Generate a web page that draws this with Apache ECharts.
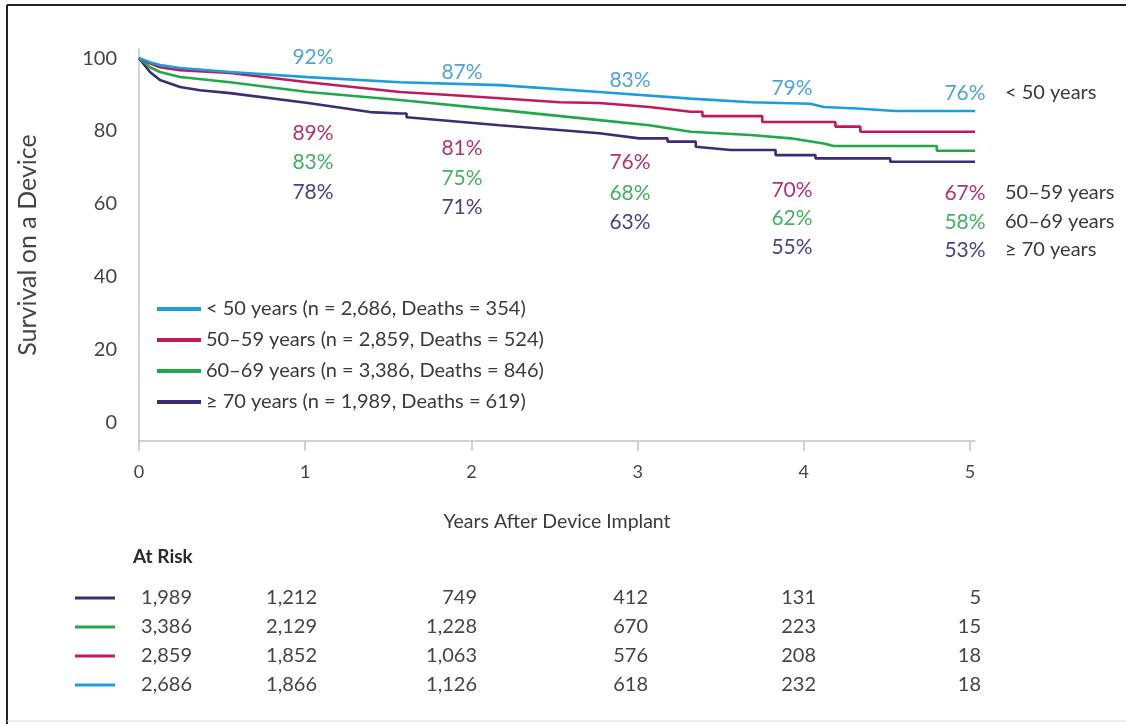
<!DOCTYPE html>
<html><head><meta charset="utf-8">
<script src="https://cdn.jsdelivr.net/npm/echarts@6/dist/echarts.min.js"></script>
<style>html,body{margin:0;padding:0;background:#fff}#c{width:1126px;height:724px}</style>
</head><body><div id="c"></div>
<script>
// ---------- DATA ----------
const groupNames = ['< 50 years', '50–59 years', '60–69 years', '≥ 70 years'];
const legendLabels = [
  '< 50 years (n = 2,686, Deaths = 354)',
  '50–59 years (n = 2,859, Deaths = 524)',
  '60–69 years (n = 3,386, Deaths = 846)',
  '≥ 70 years (n = 1,989, Deaths = 619)'
];
const yearTicks = [0, 1, 2, 3, 4, 5];
const survivalTicks = [0, 20, 40, 60, 80, 100];

// Kaplan–Meier curves: [years, survival %]
const curveLt50 = [[0,100],[0.066,98.9],[0.126,98.1],[0.247,97.3],[0.548,96.2],[1.017,94.8],[1.57,93.4],[2.17,92.6],[2.77,90.7],[3.32,88.9],[3.68,87.9],[4.04,87.5],[4.12,86.6],[4.32,86.2],[4.55,85.5],[5.03,85.5]];
const curve5059 = [[0,100],[0.066,98.6],[0.126,97.5],[0.247,96.7],[0.548,95.9],[1.017,93.4],[1.57,90.7],[1.87,89.9],[2.17,89.0],[2.53,87.9],[2.77,87.7],[3.07,86.6],[3.32,85.3],[3.39,85.3],[3.39,84.1],[3.75,84.1],[3.75,82.5],[4.19,82.5],[4.19,81.2],[4.34,81.2],[4.34,79.8],[5.03,79.8]];
const curve6069 = [[0,100],[0.066,97.5],[0.126,96.2],[0.247,94.8],[0.548,93.4],[1.017,90.7],[1.57,88.5],[2.17,85.8],[2.77,83.0],[3.07,81.6],[3.32,79.8],[3.68,78.9],[3.92,78.0],[4.12,76.6],[4.18,75.9],[4.80,75.9],[4.80,74.6],[5.03,74.6]];
const curve70 = [[0,100],[0.066,96.2],[0.126,94.0],[0.247,92.1],[0.367,91.2],[0.548,90.4],[1.017,87.7],[1.39,85.2],[1.57,84.8],[1.61,84.8],[1.61,83.8],[2.17,81.6],[2.77,79.4],[3.01,78.0],[3.18,78.0],[3.18,77.1],[3.35,77.1],[3.35,75.7],[3.56,74.8],[3.83,74.8],[3.83,73.4],[4.07,73.4],[4.07,72.5],[4.52,72.5],[4.52,71.6],[5.03,71.6]];

// Annotated survival at years 1..5
const pctLt50 = [92, 87, 83, 79, 76];
const pct5059 = [89, 81, 76, 70, 67];
const pct6069 = [83, 75, 68, 62, 58];
const pct70   = [78, 71, 63, 55, 53];

// At-risk counts at years 0..5
const atRisk70   = [1989, 1212, 749, 412, 131, 5];
const atRisk6069 = [3386, 2129, 1228, 670, 223, 15];
const atRisk5059 = [2859, 1852, 1063, 576, 208, 18];
const atRiskLt50 = [2686, 1866, 1126, 618, 232, 18];

// ---------- STYLE / LAYOUT ----------
const FONT = 'Lato, "Open Sans", sans-serif';
const lineColors = ['#1a9fdb', '#be1a5c', '#20a84a', '#3b2c74'];
const pctColors  = ['#4fa3d6', '#b2346f', '#45b061', '#4c3f8a'];
const textDark = '#3a3a3a';
const pctX = [313, 462, 630, 792, 965];
const pctTopY = [57, 72, 80, 88, 93];
const pctLowY = [[133,162,192],[148,178,207],[162,193,222],[190,218,247],[193,222,250]];
const rightLabelX = 1005;
const rightLabelY = [93, 193, 222, 250];
const riskColRight = [192, 317, 477, 648, 816, 981];
const riskRowY = [598, 627, 656, 685];

const chart = echarts.init(document.getElementById('c'), null, {renderer: 'canvas'});

const curves = [curveLt50, curve5059, curve6069, curve70];
const series = curves.map((d, i) => ({
  name: legendLabels[i], type: 'line', data: d, showSymbol: false, symbol: 'none',
  lineStyle: {width: 2.6, color: lineColors[i]}, itemStyle: {color: lineColors[i]},
  z: 10 - i, silent: true
}));

const graphics = [];
// frame
graphics.push({type:'line', shape:{x1:7,y1:5,x2:7,y2:724}, style:{stroke:'#222', lineWidth:2}});
graphics.push({type:'line', shape:{x1:7,y1:5,x2:1126,y2:5}, style:{stroke:'#222', lineWidth:2}});
graphics.push({type:'line', shape:{x1:7,y1:721,x2:1126,y2:721}, style:{stroke:'#d8d8d8', lineWidth:1}});

const txt = (text, x, y, fill, size, align, weight) => ({
  type: 'text', x: x, y: y, silent: true,
  style: {text: text, fill: fill, font: (weight||'normal') + ' ' + size + 'px ' + FONT,
          textAlign: align || 'center', textVerticalAlign: 'middle'}
});

// percentage annotations
const pctGroups = [pctLt50, pct5059, pct6069, pct70];
for (let k = 0; k < 5; k++) {
  graphics.push(txt(pctLt50[k] + '%', pctX[k], pctTopY[k], pctColors[0], 21));
  for (let g = 1; g < 4; g++) {
    graphics.push(txt(pctGroups[g][k] + '%', pctX[k], pctLowY[k][g-1], pctColors[g], 21));
  }
}
// right-side group labels
groupNames.forEach((n, i) => graphics.push(txt(n, rightLabelX, rightLabelY[i], textDark, 20, 'left')));

// at-risk table
graphics.push(txt('At Risk', 133, 557, '#2a2a2a', 19, 'left', 'bold'));
const riskRows = [atRisk70, atRisk6069, atRisk5059, atRiskLt50];
const riskColors = [lineColors[3], lineColors[2], lineColors[1], lineColors[0]];
riskRows.forEach((row, r) => {
  graphics.push({type:'line', silent:true, shape:{x1:75, y1:riskRowY[r], x2:115, y2:riskRowY[r]},
                 style:{stroke:riskColors[r], lineWidth:3}});
  row.forEach((v, c) => graphics.push(txt(v.toLocaleString('en-US'), riskColRight[c], riskRowY[r], '#444', 20, 'right')));
});

chart.setOption({
  animation: false,
  backgroundColor: '#fff',
  textStyle: {fontFamily: FONT},
  grid: {left: 139, top: 49, width: 836, height: 392, containLabel: false},
  legend: {
    orient: 'vertical', left: 152, top: 294, icon: 'rect', itemWidth: 44, itemHeight: 4,
    itemGap: 11, data: legendLabels, selectedMode: false,
    textStyle: {fontSize: 20, color: textDark, fontFamily: FONT, lineHeight: 20}
  },
  xAxis: {
    type: 'value', min: 0, max: 5.03,
    name: 'Years After Device Implant', nameLocation: 'middle', nameGap: 71,
    nameTextStyle: {fontSize: 19.5, color: textDark, fontFamily: FONT},
    axisLine: {onZero: false, lineStyle: {color: '#c4c4c4', width: 1.5}},
    axisTick: {show: true, customValues: yearTicks, length: 10, lineStyle: {color: '#c4c4c4', width: 1.5}},
    axisLabel: {customValues: yearTicks, fontSize: 18, color: '#444', margin: 22, fontFamily: FONT},
    splitLine: {show: false}
  },
  yAxis: {
    type: 'value', min: -5, max: 102.5,
    name: 'Survival on a Device', nameLocation: 'middle', nameGap: 99, nameRotate: 90,
    nameTextStyle: {fontSize: 25, color: '#444', fontFamily: FONT},
    axisLine: {show: true, onZero: false, lineStyle: {color: '#c4c4c4', width: 1.5}},
    axisTick: {show: false},
    axisLabel: {customValues: survivalTicks, fontSize: 20, color: '#444', margin: 22, fontFamily: FONT},
    splitLine: {show: false}
  },
  series: series,
  graphic: graphics
});
</script>
</body></html>
